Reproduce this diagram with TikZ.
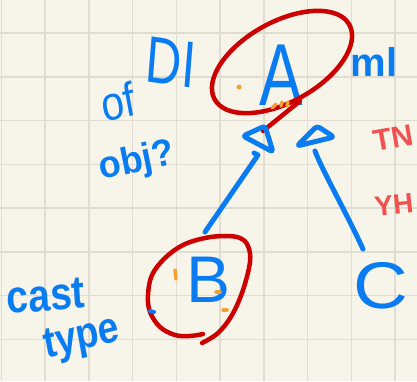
\documentclass[tikz,border=0pt]{standalone}
\usepackage{fontspec}
\setmainfont{Liberation Sans}
\definecolor{paper}{HTML}{F7F5EA}
\definecolor{gridline}{HTML}{E0DDD0}
\definecolor{penblue}{HTML}{0A7CF2}
\definecolor{penred}{HTML}{CC0000}
\definecolor{notered}{HTML}{F05252}
\definecolor{marker}{HTML}{F5A030}
\newcommand{\fs}[1]{\fontsize{#1}{#1}\selectfont}
\begin{document}
\begin{tikzpicture}[x=1pt,y=-1pt,
  gridstroke/.style={draw=gridline, line width=1.5pt},
  ink/.style={draw=penblue, line width=5pt, line cap=round, line join=round},
  redink/.style={draw=penred, line width=4.5pt, line cap=round, line join=round},
  dab/.style={draw=marker, line width=3.5pt, line cap=round},
  letter/.style={text=penblue, inner sep=0pt},
  bluenote/.style={text=penblue, inner sep=0pt},
  rednote/.style={text=notered, inner sep=0pt, font=\bfseries},
  opentri/.style={ink, rounded corners=3pt}]

% paper and grid
\fill[paper] (0,0) rectangle (417,381);
\useasboundingbox (0,0) rectangle (417,381);
\clip (0,0) rectangle (417,381);
\foreach \i in {0,...,9} \draw[gridstroke] ({1.3+43.75*\i},0) -- ++(0,381);
\foreach \j in {1,...,8} \draw[gridstroke] (0,{-10.75+43.75*\j}) -- ++(417,0);

% class letters
\node[letter, font=\fs{88}, xscale=0.74] (A) at (281,75) {A};
\node[letter, font=\fs{66}] (B) at (209,280) {B};
\node[letter, font=\fs{66}, xscale=1.15] (C) at (381,286) {C};

% circles around A and B
\draw[redink, rotate around={29:(282,62)}] (282,62) ellipse [x radius=77, y radius=40];
\draw[redink] (300,101) -- (263,131);
\draw[redink] plot[smooth, tension=0.6] coordinates {
  (202,343) (218,333) (232,315) (243,290) (250,262) (248,246) (240,238)
  (225,236) (205,238) (183,245) (165,258) (152,275) (148,295) (150,312)
  (160,327) (175,335) (190,336) (203,334)};

% marker dabs
\fill[marker] (239,87) circle (2.5pt);
\draw[dab] (272,108) -- (276,104);
\draw[dab] (281,106) -- (282,102);
\draw[dab] (287,106) -- (288,102);
\draw[dab] (175,270) -- (176,279);
\draw[dab] (216,292) -- (220,292);
\draw[dab] (223,310) -- (227,310);
\draw[ink, line width=4pt] (150,311) -- (154,312);

% inheritance arrows
\coordinate (A-left) at (258,155);
\coordinate (A-right) at (315,151);
\coordinate (B-top) at (205,232);
\coordinate (C-top) at (363,249);
\draw[opentri] (243,136) -- (265,126) -- (273,152) -- cycle;
\draw[opentri] (297,146) -- (317,126) -- (334,137) -- cycle;
\draw[ink] (B-top) -- (A-left) -- ++(-4,-2);
\draw[ink] (C-top) .. controls (345,210) and (322,170) .. (A-right);

% notes
\node[bluenote, font=\fs{48}, xscale=0.85, rotate=12] (n1) at (118,102) {of};
\node[bluenote, font=\fs{66}, xscale=0.75, rotate=-6] (n2) at (171,62) {DI};
\node[bluenote, font=\bfseries\fs{38}, xscale=0.95, rotate=12] (n3) at (137,162) {obj?};
\node[bluenote, font=\bfseries\fs{40}, anchor=base] (n4) at (374,76) {ml};
\node[bluenote, font=\bfseries\fs{46}, xscale=0.85, rotate=4] (n5) at (46,296) {cast};
\node[bluenote, font=\bfseries\fs{44}, xscale=0.85, rotate=12] (n6) at (82,340) {type};
\node[rednote, font=\bfseries\fs{30}, rotate=10] (n7) at (393,138) {TN};
\node[rednote, font=\bfseries\fs{28}, rotate=6] (n8) at (394,205) {YH};
\end{tikzpicture}
\end{document}
